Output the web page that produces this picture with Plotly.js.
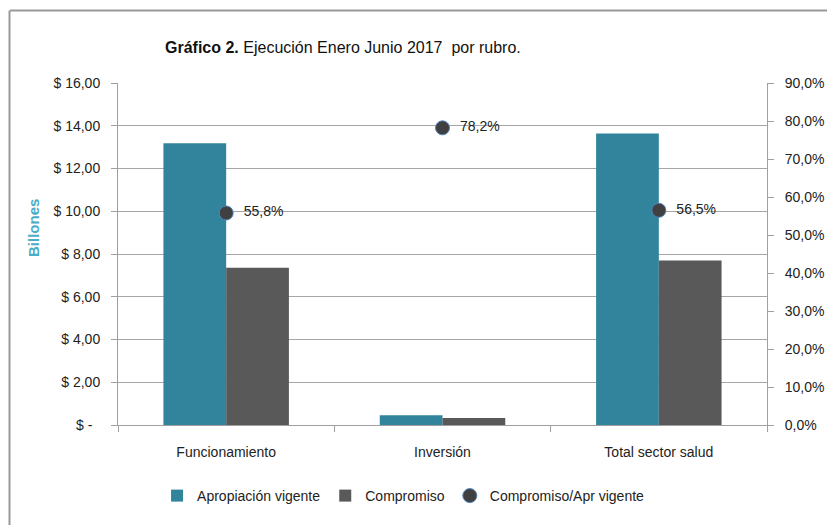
<!DOCTYPE html>
<html>
<head>
<meta charset="utf-8">
<script src="https://cdn.plot.ly/plotly-3.0.1.min.js"></script>
<style>html,body{margin:0;padding:0;background:#fff;}#chart{width:827px;height:525px;}</style>
</head>
<body>
<div id="chart"></div>
<script>
const categories = ['Funcionamiento', 'Inversión', 'Total sector salud'];
const apropiacion = [13.18, 0.46, 13.64];
const compromiso = [7.36, 0.33, 7.70];
const ratio = [0.558, 0.782, 0.565];
const ratioLabels = ['55,8%', '78,2%', '56,5%'];
const leftTickVals = [0, 2, 4, 6, 8, 10, 12, 14, 16];
const leftTickText = ['$ -  ', '$ 2,00', '$ 4,00', '$ 6,00', '$ 8,00', '$ 10,00', '$ 12,00', '$ 14,00', '$ 16,00'];
const rightTickVals = [0, 0.1, 0.2, 0.3, 0.4, 0.5, 0.6, 0.7, 0.8, 0.9];
const rightTickText = ['0,0%', '10,0%', '20,0%', '30,0%', '40,0%', '50,0%', '60,0%', '70,0%', '80,0%', '90,0%'];

const FONT = '"Liberation Sans Narrow", "Arial Narrow", "Liberation Sans", Arial, sans-serif';

const traces = [
  {type: 'bar', name: 'Apropiación vigente', x: categories, y: apropiacion,
   marker: {color: '#31849B'}},
  {type: 'bar', name: 'Compromiso', x: categories, y: compromiso,
   marker: {color: '#595959'}},
  {type: 'scatter', mode: 'markers+text', name: 'Compromiso/Apr vigente',
   x: categories, y: ratio, yaxis: 'y2',
   text: ratioLabels.map(t => '\u00a0\u00a0' + t), textposition: 'middle right',
   textfont: {size: 14, color: '#222', family: FONT},
   marker: {color: '#404040', size: 14, line: {color: '#4F81BD', width: 1}},
   cliponaxis: false}
];

const layout = {
  width: 827, height: 525,
  margin: {l: 118, r: 60, t: 83, b: 100},
  paper_bgcolor: '#fff', plot_bgcolor: '#fff',
  font: {family: FONT, size: 14, color: '#222'},
  barmode: 'group', bargap: 0.42, bargroupgap: 0,
  showlegend: true,
  legend: {orientation: 'h', x: 0.44, xanchor: 'center', y: -0.2076, yanchor: 'middle',
           font: {size: 14, color: '#222'}, itemwidth: 30, tracegroupgap: 0},
  title: {text: '<b>Gráfico 2.</b> Ejecución Enero Junio 2017  por rubro.',
          x: 165 / 827, xanchor: 'left', xref: 'container',
          y: 1 - 47 / 525, yanchor: 'middle', yref: 'container',
          font: {size: 16, color: '#111', family: FONT}},
  xaxis: {type: 'category', showline: true, linecolor: '#a0a0a0', linewidth: 1,
          ticks: 'outside', tickson: 'boundaries', ticklen: 6, tickcolor: '#a0a0a0',
          showgrid: false, tickfont: {size: 14}, ticklabelstandoff: 14, fixedrange: true},
  yaxis: {range: [0, 16], tickvals: leftTickVals, ticktext: leftTickText,
          showline: true, linecolor: '#a0a0a0', ticks: 'outside', ticklen: 6, tickcolor: '#a0a0a0',
          showgrid: true, gridcolor: '#a6a6a6', gridwidth: 1, zeroline: false,
          ticklabelstandoff: 8, tickfont: {size: 14}},
  yaxis2: {range: [0, 0.9], tickvals: rightTickVals, ticktext: rightTickText,
           overlaying: 'y', side: 'right', showgrid: false, zeroline: false,
           showline: true, linecolor: '#a0a0a0', ticks: 'outside', ticklen: 6, tickcolor: '#a0a0a0',
           ticklabelstandoff: 8, tickfont: {size: 14}},
  annotations: [
    {text: '<b>Billones</b>', xref: 'paper', yref: 'paper', x: (33 - 118) / 649, y: 0.576,
     textangle: -90, showarrow: false, xanchor: 'center', yanchor: 'middle',
     font: {size: 15, color: '#4BACC6', family: '"Liberation Sans", Arial, sans-serif'}}
  ],
  shapes: [
    {type: 'line', xref: 'paper', yref: 'paper', x0: (10 - 118) / 649, x1: (830 - 118) / 649,
     y0: 1 + (83 - 10.5) / 342, y1: 1 + (83 - 10.5) / 342, line: {color: '#999', width: 2}},
    {type: 'line', xref: 'paper', yref: 'paper', x0: (9.5 - 118) / 649, x1: (9.5 - 118) / 649,
     y0: 1 + (83 - 10.5) / 342, y1: (425 - 530) / 342, line: {color: '#999', width: 2}}
  ]
};

Plotly.newPlot('chart', traces, layout, {displayModeBar: false, staticPlot: true});
</script>
</body>
</html>
